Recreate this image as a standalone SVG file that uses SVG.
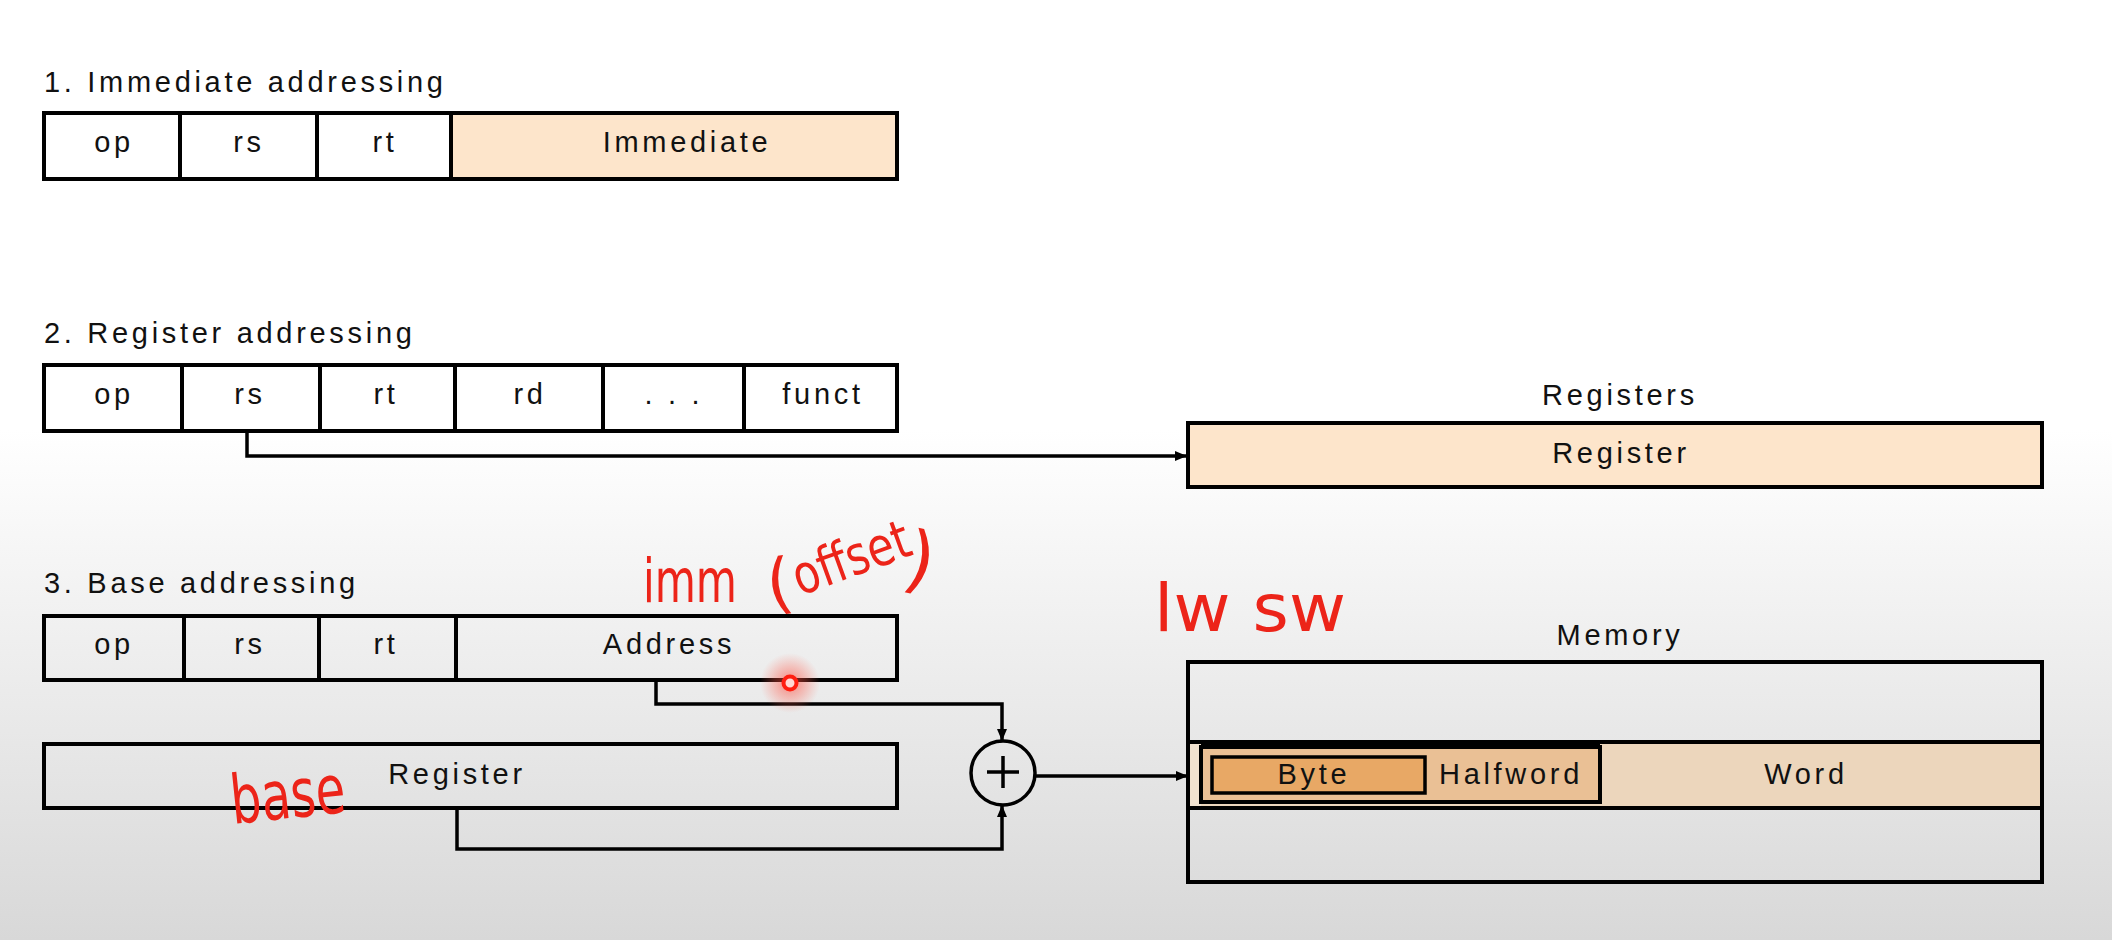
<svg xmlns="http://www.w3.org/2000/svg" width="2112" height="940" viewBox="0 0 2112 940">
  <defs>
    <linearGradient id="bg" x1="0" y1="430" x2="0" y2="940" gradientUnits="userSpaceOnUse">
      <stop offset="0" stop-color="#ffffff"/>
      <stop offset="1" stop-color="#d8d8d8"/>
    </linearGradient>
    <radialGradient id="halo">
      <stop offset="0" stop-color="#ff3b2b" stop-opacity="0.6"/>
      <stop offset="0.55" stop-color="#ff5a4a" stop-opacity="0.3"/>
      <stop offset="1" stop-color="#ff6a5a" stop-opacity="0"/>
    </radialGradient>
    <marker id="arrow" markerUnits="userSpaceOnUse" markerWidth="12" markerHeight="12" viewBox="0 0 12 12" refX="11" refY="6" orient="auto">
      <path d="M0,1 L12,6 L0,11 Z" fill="#000"/>
    </marker>
    <style>
      .lbl { font-family: "Liberation Sans", Arial, sans-serif; font-size: 29px; letter-spacing: 3.7px; fill: #111; }
      .mid { text-anchor: middle; }
      .box { fill: none; stroke: #000; stroke-width: 4; }
      .div { stroke: #000; stroke-width: 4; }
      .peach { fill: #fde5cb; stroke: #000; stroke-width: 4; }
      .wire { fill: none; stroke: #000; stroke-width: 3.5; }
      .pen { font-family: "DejaVu Sans", "Liberation Sans", sans-serif; fill: #ec2419; }
    </style>
  </defs>

  <rect x="0" y="0" width="2112" height="940" fill="url(#bg)"/>

  <!-- 1. Immediate addressing -->
  <g id="immediate-addressing">
    <text class="lbl" x="44" y="92">1. Immediate addressing</text>
    <rect x="451" y="113" width="446" height="66" fill="#fde5cb"/>
    <rect class="box" x="44" y="113" width="853" height="66"/>
    <line class="div" x1="180" y1="113" x2="180" y2="179"/>
    <line class="div" x1="317" y1="113" x2="317" y2="179"/>
    <line class="div" x1="451" y1="113" x2="451" y2="179"/>
    <text class="lbl mid" x="114" y="152">op</text>
    <text class="lbl mid" x="249" y="152">rs</text>
    <text class="lbl mid" x="385" y="152">rt</text>
    <text class="lbl mid" x="687" y="152">Immediate</text>
  </g>

  <!-- 2. Register addressing -->
  <g id="register-addressing">
    <text class="lbl" x="44" y="343">2. Register addressing</text>
    <rect class="box" x="44" y="365" width="853" height="66"/>
    <line class="div" x1="182" y1="365" x2="182" y2="431"/>
    <line class="div" x1="320" y1="365" x2="320" y2="431"/>
    <line class="div" x1="455" y1="365" x2="455" y2="431"/>
    <line class="div" x1="603" y1="365" x2="603" y2="431"/>
    <line class="div" x1="744" y1="365" x2="744" y2="431"/>
    <text class="lbl mid" x="114" y="404">op</text>
    <text class="lbl mid" x="250" y="404">rs</text>
    <text class="lbl mid" x="386" y="404">rt</text>
    <text class="lbl mid" x="530" y="404">rd</text>
    <text class="lbl mid" x="674" y="404">. . .</text>
    <text class="lbl mid" x="823" y="404">funct</text>
  </g>

  <g id="registers">
    <text class="lbl mid" x="1620" y="405">Registers</text>
    <rect class="peach" x="1188" y="423" width="854" height="64"/>
    <text class="lbl mid" x="1621" y="463">Register</text>
  </g>

  <!-- 3. Base addressing -->
  <g id="base-addressing">
    <text class="lbl" x="44" y="593">3. Base addressing</text>
    <rect class="box" x="44" y="616" width="853" height="64"/>
    <line class="div" x1="184" y1="616" x2="184" y2="680"/>
    <line class="div" x1="319" y1="616" x2="319" y2="680"/>
    <line class="div" x1="456" y1="616" x2="456" y2="680"/>
    <text class="lbl mid" x="114" y="654">op</text>
    <text class="lbl mid" x="250" y="654">rs</text>
    <text class="lbl mid" x="386" y="654">rt</text>
    <text class="lbl mid" x="669" y="654">Address</text>
  </g>

  <g id="base-register">
    <rect class="box" x="44" y="744" width="853" height="64"/>
    <text class="lbl mid" x="457" y="784">Register</text>
  </g>

  <g id="adder">
    <circle cx="1003" cy="773" r="32" fill="none" stroke="#000" stroke-width="3.5"/>
    <line x1="987" y1="772" x2="1019" y2="772" stroke="#000" stroke-width="3.5"/>
    <line x1="1003" y1="756" x2="1003" y2="788" stroke="#000" stroke-width="3.5"/>
  </g>

  <g id="memory">
    <text class="lbl mid" x="1620" y="645">Memory</text>
    <rect class="box" x="1188" y="662" width="854" height="220"/>
    <rect x="1188" y="742" width="854" height="66" fill="#ecd6bc" stroke="#000" stroke-width="4"/>
    <rect x="1190" y="744" width="11" height="62" fill="#f1e2d0"/>
    <rect x="1201" y="747" width="399" height="55" fill="#eac095" stroke="#000" stroke-width="4"/>
    <line x1="1201" y1="746" x2="1600" y2="746" stroke="#000" stroke-width="6"/>
    <rect x="1212" y="757" width="213" height="36" fill="#e8a865" stroke="#000" stroke-width="3.5"/>
    <text class="lbl mid" x="1314" y="784">Byte</text>
    <text class="lbl mid" x="1511" y="784">Halfword</text>
    <text class="lbl mid" x="1806" y="784">Word</text>
  </g>

  <!-- connectors -->
  <g id="connectors">
    <path class="wire" d="M247,431 V456 H1186" marker-end="url(#arrow)"/>
    <path class="wire" d="M656,680 V704 H1002 V740" marker-end="url(#arrow)"/>
    <path class="wire" d="M457,808 V849 H1002 V806" marker-end="url(#arrow)"/>
    <path class="wire" d="M1035,776 H1187" marker-end="url(#arrow)"/>
  </g>

  <!-- pen annotations -->
  <g id="annotations">
    <text class="pen" x="643" y="602" font-size="60" textLength="94" lengthAdjust="spacingAndGlyphs">imm</text>
    <text class="pen" x="766" y="606" font-size="66" transform="rotate(-8 778 580)">(</text>
    <text class="pen" x="800" y="596" font-size="54" textLength="122" lengthAdjust="spacingAndGlyphs" transform="rotate(-20 800 596)">offset</text>
    <text class="pen" x="906" y="585" font-size="74" transform="rotate(12 920 560)">)</text>
    <text class="pen" x="233" y="824" font-size="68" textLength="115" lengthAdjust="spacingAndGlyphs" transform="rotate(-6 233 824)">base</text>
    <text class="pen" x="1154" y="631" font-size="66" textLength="192" lengthAdjust="spacingAndGlyphs">lw sw</text>
  </g>

  <g id="pointer">
    <circle cx="790" cy="683" r="30" fill="url(#halo)"/>
    <circle cx="790" cy="683" r="6.5" fill="#ffd9d4" stroke="#ff1e10" stroke-width="4"/>
  </g>
</svg>
